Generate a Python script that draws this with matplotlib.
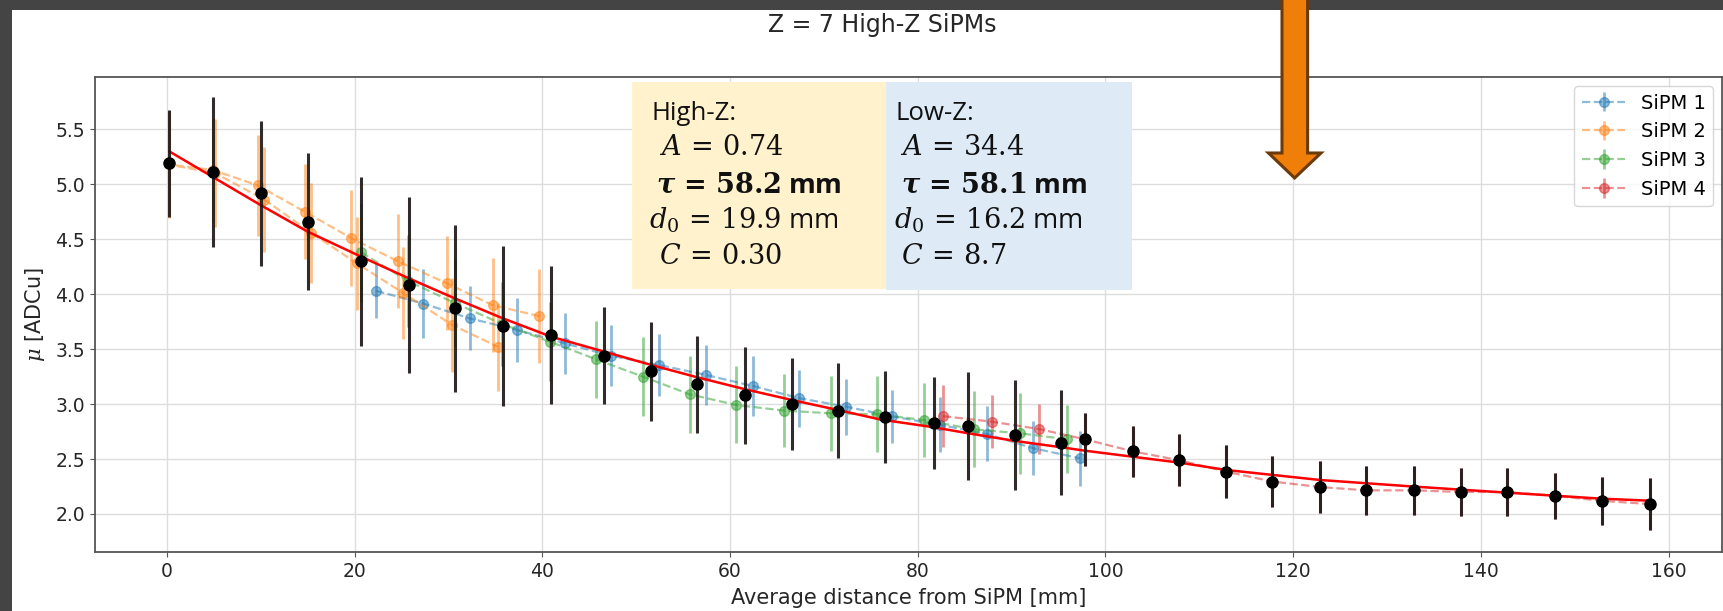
"""
Attenuation of the light yield along the bar, Z = 7 High-Z SiPMs.
"""

import matplotlib
matplotlib.use("Agg")
import matplotlib.pyplot as plt
from matplotlib.patches import Rectangle, Polygon

plt.rcParams['font.family'] = 'DejaVu Sans'
plt.rcParams['mathtext.fontset'] = 'dejavuserif'

# combined points (black)
dist_all = [0.2, 4.9, 10.0, 15.0, 20.7, 25.75, 30.65, 35.8, 40.95, 46.6, 51.6, 56.5,
            61.6, 66.6, 71.5, 76.5, 81.7, 85.4, 90.4, 95.3, 97.8, 102.9, 107.8, 112.9,
            117.8, 122.9, 127.8, 132.9, 137.9, 142.8, 147.9, 152.9, 158.0]
mu_all = [5.19, 5.11, 4.92, 4.66, 4.30, 4.08, 3.87, 3.71, 3.63, 3.44, 3.30, 3.18,
          3.08, 3.00, 2.94, 2.885, 2.825, 2.80, 2.72, 2.65, 2.68, 2.57, 2.49, 2.385,
          2.295, 2.245, 2.215, 2.215, 2.20, 2.20, 2.165, 2.12, 2.09]
err_all = [0.49, 0.68, 0.66, 0.62, 0.77, 0.80, 0.76, 0.73, 0.63, 0.44, 0.45, 0.44,
           0.44, 0.42, 0.43, 0.42, 0.42, 0.49, 0.50, 0.48, 0.24, 0.23, 0.24, 0.24,
           0.23, 0.24, 0.22, 0.22, 0.22, 0.22, 0.21, 0.22, 0.24]

# SiPM 1
dist_1 = [22.3, 27.3, 32.25, 37.3, 42.4, 47.3, 52.4, 57.45, 62.4, 67.4, 72.4, 77.3,
          82.4, 87.35, 92.3, 97.3]
mu_1 = [4.03, 3.915, 3.78, 3.675, 3.553, 3.44, 3.356, 3.265, 3.165, 3.053, 2.976, 2.888,
        2.81, 2.728, 2.598, 2.507]
err_1 = [0.25, 0.31, 0.29, 0.29, 0.28, 0.28, 0.28, 0.27, 0.27, 0.26, 0.255, 0.24,
         0.25, 0.25, 0.245, 0.25]

# SiPM 2 (source scanned through the SiPM, so the distance goes down then up)
dist_2 = [39.7, 34.7, 29.8, 24.6, 19.65, 14.7, 9.67, 4.9, 0.2, 5.17, 10.4, 15.35,
          20.25, 25.2, 30.4, 35.3]
mu_2 = [3.80, 3.90, 4.10, 4.30, 4.51, 4.75, 4.99, 5.13, 5.18, 5.10, 4.86, 4.56,
        4.28, 4.01, 3.72, 3.52]
err_2 = [0.43, 0.425, 0.43, 0.43, 0.435, 0.43, 0.46, 0.47, 0.49, 0.49, 0.48, 0.455,
         0.42, 0.42, 0.425, 0.40]

# SiPM 3
dist_3 = [20.7, 25.7, 30.65, 35.7, 40.8, 45.7, 50.7, 55.7, 60.65, 65.8, 70.8, 75.7,
          80.7, 86.0, 90.9, 95.9]
mu_3 = [4.38, 4.12, 3.92, 3.73, 3.568, 3.408, 3.25, 3.089, 2.992, 2.94, 2.916, 2.907,
        2.855, 2.77, 2.734, 2.68]
err_3 = [0.45, 0.42, 0.40, 0.38, 0.36, 0.35, 0.36, 0.35, 0.35, 0.33, 0.34, 0.345,
         0.34, 0.345, 0.37, 0.31]

# SiPM 4
dist_4 = [82.7, 87.9, 92.9, 97.8, 102.9, 107.8, 112.9, 117.8, 122.9, 127.8, 132.9,
          137.9, 142.8, 147.9, 152.9, 158.0]
mu_4 = [2.89, 2.84, 2.773, 2.68, 2.57, 2.49, 2.385, 2.295, 2.245, 2.215, 2.215,
        2.20, 2.20, 2.165, 2.12, 2.09]
err_4 = [0.28, 0.24, 0.23, 0.24, 0.23, 0.24, 0.24, 0.23, 0.24, 0.22, 0.22,
         0.22, 0.22, 0.21, 0.22, 0.24]

# fitted curve
fit_d = [0.3, 4.9, 10.0, 15.0, 20.7, 25.75, 30.65, 35.8, 40.95, 46.6, 51.6, 56.5,
         61.6, 66.6, 71.5, 76.0, 81.7, 85.4, 90.4, 95.3, 97.8, 102.9, 107.9, 112.9,
         122.9, 132.9, 142.8, 152.9, 158.0]
fit_mu = [5.297, 5.066, 4.81, 4.569, 4.341, 4.145, 3.963, 3.78, 3.613, 3.477, 3.356,
          3.244, 3.135, 3.037, 2.946, 2.86, 2.789, 2.734, 2.664, 2.607, 2.576, 2.521,
          2.467, 2.40, 2.309, 2.249, 2.194, 2.139, 2.121]

sipm_labels = ["SiPM 1", "SiPM 2", "SiPM 3", "SiPM 4"]
fit_high = ["High-Z:", r"$A\,=\,0.74$", r"$\boldsymbol{\tau}\,\mathbf{=\,58.2}$ mm",
            r"$d_0\,=\,19.9$ mm", r"$C\,=\,0.30$"]
fit_low = ["Low-Z:", r"$A\,=\,34.4$", r"$\boldsymbol{\tau}\,\mathbf{=\,58.1}$ mm",
           r"$d_0\,=\,16.2$ mm", r"$C\,=\,8.7$"]

W, H = 1724, 611


def fx(px):
    return px / W


def fy(py):
    return 1 - py / H


fig = plt.figure(figsize=(W / 100, H / 100), dpi=100, facecolor='#444444')
fig.patches.append(Rectangle((fx(12), 0), 1 - fx(12), fy(10), transform=fig.transFigure,
                             facecolor='white', edgecolor='none', zorder=-5))

ax = fig.add_axes([fx(94.6), fy(552), fx(1722) - fx(94.6), fy(77) - fy(552)])

series = [(dist_1, mu_1, err_1), (dist_2, mu_2, err_2),
          (dist_3, mu_3, err_3), (dist_4, mu_4, err_4)]
colors = ['tab:blue', 'tab:orange', 'tab:green', 'tab:red']
for (d, m, e), c, lab in zip(series, colors, sipm_labels):
    ax.errorbar(d, m, yerr=e, fmt='--o', color=c, alpha=0.5, ms=7,
                elinewidth=2, lw=1.6, label=lab, zorder=2)

ax.plot(fit_d, fit_mu, color='red', lw=1.8, zorder=3)
ax.errorbar(dist_all, mu_all, yerr=err_all, fmt='o', color='black', ms=8,
            ecolor=(0.1, 0.08, 0.08, 0.9), elinewidth=2.2, zorder=4)

ax.set_xlim(-7.7, 165.7)
ax.set_ylim(1.654, 5.976)
ax.set_yticks([2.0, 2.5, 3.0, 3.5, 4.0, 4.5, 5.0, 5.5])
ax.grid(True, color='#dddddd', lw=1)
ax.set_axisbelow(True)
for s in ax.spines.values():
    s.set_color('#555555')
    s.set_linewidth(1.3)
ax.tick_params(labelsize=13.5, colors='#555555', labelcolor='#262626')
ax.set_xlabel("Average distance from SiPM [mm]", fontsize=15, color='#262626', labelpad=5)
ax.set_ylabel(r"$\mu$ [ADCu]", fontsize=15, color='#262626', labelpad=6)
ax.legend(loc='upper right', fontsize=14, borderaxespad=0.45, handlelength=2.2)

fig.text(fx(882), fy(25), "Z = 7 High-Z SiPMs", ha='center', va='center',
         fontsize=17, color='#262626')

# fit parameter boxes
fig.patches.append(Rectangle((fx(632), fy(289)), fx(886) - fx(632), fy(82) - fy(289),
                             transform=fig.transFigure, facecolor='#fff2cc',
                             edgecolor='none', zorder=5))
fig.patches.append(Rectangle((fx(886), fy(290)), fx(1132) - fx(886), fy(82) - fy(290),
                             transform=fig.transFigure, facecolor='#deebf7',
                             edgecolor='none', zorder=5))
line_y = [120, 155, 193, 228, 264]
for lines, xs in [(fit_high, [652, 659, 656, 649, 659]), (fit_low, [896, 900, 901, 894, 901])]:
    for i, (txt, x0) in enumerate(zip(lines, xs)):
        kw = dict(fontsize=19.5, fontfamily='Open Sans', color='#111111')
        if i == 0:
            kw['fontsize'] = 18.5
        if i == 2:
            kw['fontweight'] = 'bold'
        fig.text(fx(x0), fy(line_y[i]), txt, ha='left', va='baseline', zorder=6, **kw)

# orange arrow pointing down from the top
arrow = [(1282, -5), (1282, 153), (1268.5, 153), (1294.6, 178), (1321, 153),
         (1307.6, 153), (1307.6, -5)]
fig.patches.append(Polygon([(fx(a), fy(b)) for a, b in arrow], closed=True,
                           transform=fig.transFigure, facecolor='#f07f0a',
                           edgecolor='#6b3a0b', lw=2.2, zorder=7))

fig.savefig("out.png", dpi=100, facecolor=fig.get_facecolor())
